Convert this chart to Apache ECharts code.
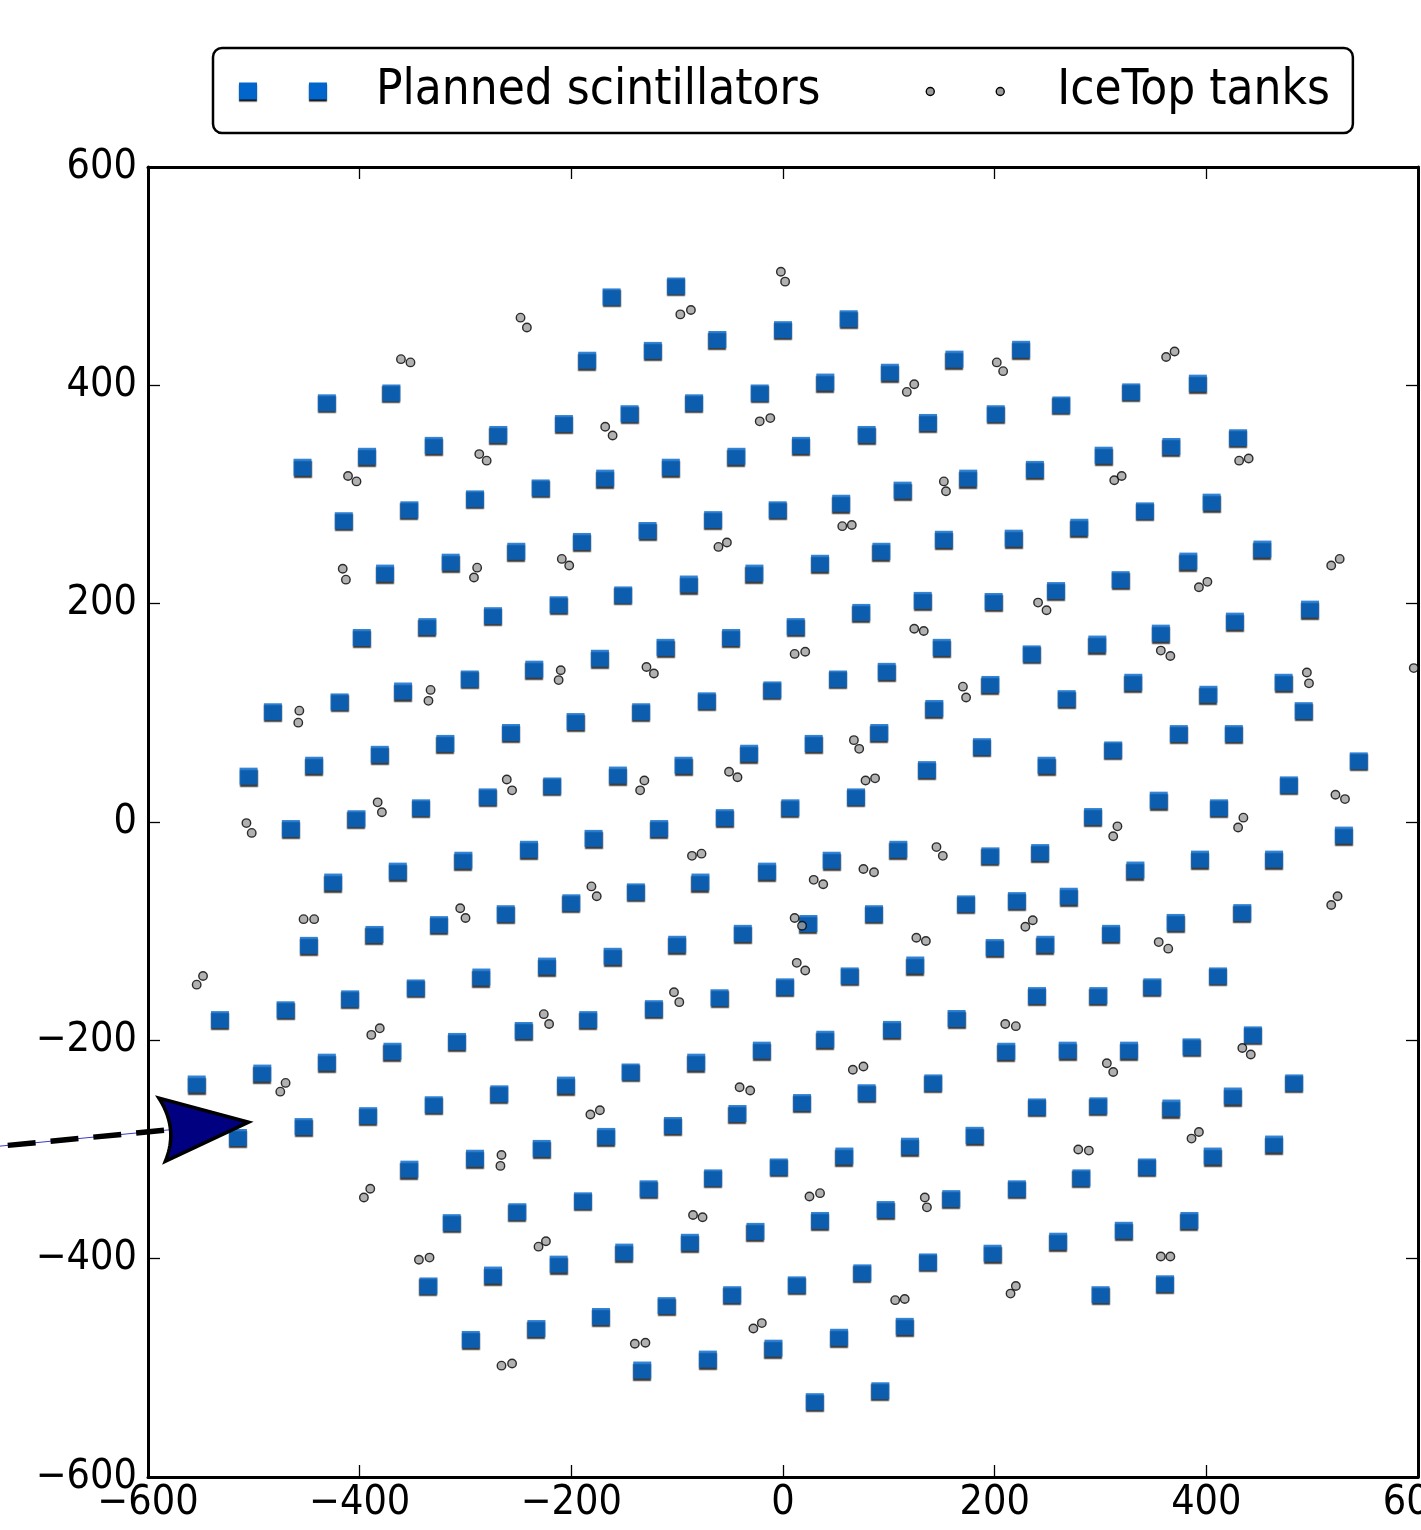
<!DOCTYPE html>
<html>
<head>
<meta charset="utf-8">
<script src="https://cdn.jsdelivr.net/npm/echarts@6/dist/echarts.min.js"></script>
<style>
html,body{margin:0;padding:0;background:#fff;}
#chart{width:1421px;height:1530px;}
</style>
</head>
<body>
<div id="chart"></div>
<script>
// ---------- data ----------
const xTicks = [-600, -400, -200, 0, 200, 400, 600];
const yTicks = [-600, -400, -200, 0, 200, 400, 600];

const scintillatorX = [
-431,-370,-207,-454,-393,-330,-269,-229,-291,-415,-353,-252,-314,-376,-212,-274,-336,-398,-235,-296,
-162,-101,62,0,-62,-123,-185,162,101,40,-22,-84,-145,137,79,17,-44,-106,-168,175,113,55,-5,-66,-128,-190,152,93,35,-27,-89,-151,132,74,12,-49,-111,-173,150,98,52,196,
225,201,263,329,392,430,367,303,238,405,342,280,218,453,383,319,258,199,498,427,357,297,235,331,473,
-482,-419,-359,-257,-196,-319,-381,-443,-505,-218,-279,-342,-403,-465,-240,-302,-364,-425,-200,-262,-325,-386,-448,-223,-285,-347,-409,-470,-532,-245,-308,-369,-431,-492,-554,-268,-205,
-134,-72,-10,143,91,29,-32,-94,-156,188,136,69,7,-55,-117,-179,109,46,-15,-78,-139,196,173,86,24,-38,-100,-161,200,125,63,2,-60,-122,-184,164,103,40,-20,-82,-144,142,79,
268,402,492,374,426,312,249,544,478,355,412,293,530,243,333,394,464,221,270,310,371,434,248,240,298,349,411,211,269,327,386,444,483,
-515,-453,-392,-330,-353,-291,-228,-251,-313,-212,-274,-335,-233,-295,
18,-43,-104,-167,181,120,58,-4,-66,-127,-189,159,97,35,-26,-88,-150,198,137,75,13,-48,-110,-172,115,53,-9,-71,-133,92,30,
425,240,298,367,464,406,344,282,221,260,322,384,361,300
];
const scintillatorY = [
384,393,365,325,335,345,355,306,296,276,286,248,238,228,199,189,179,169,140,131,
481,491,461,451,442,432,423,424,412,403,393,384,374,366,355,345,335,325,315,315,304,292,286,277,267,257,259,248,237,228,218,208,203,192,179,169,160,150,160,138,131,126,
433,374,382,394,402,352,344,336,323,293,285,270,260,250,239,222,212,202,195,184,173,163,154,128,128,
101,110,120,82,92,72,62,52,42,33,23,13,3,-6,-25,-35,-45,-55,-74,-84,-94,-103,-113,-132,-142,-152,-162,-172,-181,-191,-201,-210,-220,-230,-240,-249,-241,
101,111,121,104,82,72,63,52,43,69,48,23,13,4,-6,-15,-25,-35,-45,-55,-64,-31,-75,-84,-93,-102,-112,-123,-115,-131,-141,-151,-161,-171,-181,-180,-190,-199,-209,-220,-229,-239,-248,
113,117,102,81,81,66,52,56,34,20,13,5,-12,-28,-44,-34,-34,-72,-68,-102,-92,-83,-112,-159,-159,-151,-141,-210,-209,-209,-206,-195,-239,
-289,-279,-269,-259,-318,-308,-299,-357,-367,-405,-415,-425,-464,-474,
-257,-267,-278,-288,-287,-297,-306,-316,-326,-336,-347,-345,-355,-365,-375,-385,-394,-395,-403,-413,-424,-433,-443,-453,-462,-472,-482,-492,-502,-521,-531,
-251,-261,-260,-262,-295,-306,-316,-326,-336,-384,-374,-365,-423,-433
];

const tankX = [
-248,-242,-361,-352,-287,-280,-411,-403,-416,-413,-289,-292,-209,-202,-210,-212,
-2,2,-97,-87,117,124,-168,-161,-22,-12,152,154,56,65,-61,-53,124,133,11,21,-129,-122,
202,208,362,370,431,440,313,320,518,526,393,401,241,249,357,366,495,497,596,
-457,-458,-333,-335,-261,-256,-383,-379,-507,-502,-453,-443,-305,-300,-554,-548,-226,-221,-389,-381,-475,-470,
170,173,67,72,78,87,-51,-43,-131,-135,-86,-77,-181,-176,145,151,76,86,29,38,11,18,126,135,13,21,-103,-98,66,76,-41,-31,
522,531,316,312,435,430,524,518,236,229,355,364,210,220,306,312,434,442,
-396,-390,-266,-267,-344,-334,-231,-224,-266,-256,
-182,-173,25,35,134,136,-85,-76,106,115,-28,-20,-140,-130,
386,393,279,289,357,366,215,220
];
const tankY = [
462,453,424,421,337,331,317,312,232,222,233,224,241,235,139,130,
504,495,465,469,394,401,362,354,367,370,312,303,271,272,252,256,177,175,154,156,142,136,
421,413,426,431,331,333,313,317,235,241,215,220,201,194,157,152,137,127,141,
102,91,121,111,39,29,18,9,-1,-10,-89,-89,-79,-88,-149,-141,-176,-185,-195,-189,-247,-239,
124,114,75,67,38,40,46,41,38,29,-31,-29,-59,-68,-23,-31,-43,-46,-53,-57,-88,-95,-106,-109,-129,-136,-156,-165,-227,-224,-243,-246,
25,21,-4,-13,4,-5,-68,-76,-90,-96,-110,-116,-185,-187,-221,-229,-207,-213,
-344,-336,-305,-315,-401,-399,-389,-384,-498,-496,
-268,-264,-343,-340,-344,-353,-360,-362,-438,-437,-464,-459,-478,-477,
-290,-284,-300,-301,-398,-398,-432,-425
];

const arrowStart = [-741, -297];
const arrowEnd = [-505, -275];

const seriesNames = ['Planned scintillators', 'IceTop tanks'];

// ---------- build ----------
const FONT = "'DejaVu Sans Condensed', 'DejaVu Sans', sans-serif";
const SQ_COLOR = '#0165cc';
const TANK_COLOR = '#9d9d9d';
const scintData = scintillatorX.map((x, i) => [x, scintillatorY[i]]);
const tankData = tankX.map((x, i) => [x, tankY[i]]);
const fmt = v => (v < 0 ? '\u2212' + Math.abs(v) : String(v));

function axisCommon(showLabel, pos, ticks) {
  return {
    type: 'value',
    position: pos,
    min: ticks[0], max: ticks[ticks.length - 1], interval: ticks[1] - ticks[0],
    axisLine: { show: true, onZero: false, lineStyle: { color: '#000', width: 3 } },
    axisTick: { show: true, inside: true, length: 12, lineStyle: { color: '#000', width: 1.3 } },
    splitLine: { show: false },
    axisLabel: {
      show: showLabel, color: '#000', fontSize: 41, fontFamily: FONT,
      margin: (pos === 'left' ? 11 : 6), formatter: fmt,
      showMinLabel: true, showMaxLabel: true, hideOverlap: false
    }
  };
}

const squareStyle = { color: SQ_COLOR, shadowColor: 'rgba(0,0,0,0.95)', shadowOffsetX: 0, shadowOffsetY: 2, shadowBlur: 1.2 };

const chart = echarts.init(document.getElementById('chart'), null, { renderer: 'canvas' });
chart.setOption({
  backgroundColor: '#fff',
  animation: false,
  grid: { left: 148, top: 167, width: 1270, height: 1310, containLabel: false, outerBoundsMode: 'none' },
  xAxis: [axisCommon(true, 'bottom', xTicks), axisCommon(false, 'top', xTicks)],
  yAxis: [axisCommon(true, 'left', yTicks), axisCommon(false, 'right', yTicks)],
  legend: {
    left: 213, top: 48,
    orient: 'horizontal',
    padding: [19, 23, 17, 26],
    itemGap: 99,
    itemWidth: 132, itemHeight: 18,
    borderColor: '#000', borderWidth: 2.5, borderRadius: 9,
    backgroundColor: '#fff',
    selectedMode: false,
    textStyle: { fontSize: 49, fontFamily: FONT, color: '#000' },
    data: [
      { name: seriesNames[0], icon: 'path://M0,0H18V17H0Z M70,0H88V17H70Z M132,9L132,9.01 M0,18L0,18.01',
        itemStyle: { color: SQ_COLOR, opacity: 1, borderWidth: 0, shadowColor: 'rgba(0,0,0,0.95)', shadowOffsetY: 2, shadowBlur: 1.2 } },
      { name: seriesNames[1], icon: 'path://M0,0L0,0.01 M0,18L0,18.01 M132,9L132,9.01 M14,9A4,4 0 1,1 6,9A4,4 0 1,1 14,9Z M84,9A4,4 0 1,1 76,9A4,4 0 1,1 84,9Z',
        itemStyle: { color: TANK_COLOR, opacity: 1, borderColor: '#000', borderWidth: 1.4 } }
    ]
  },
  series: [
    {
      name: seriesNames[0], type: 'scatter', data: scintData,
      symbol: 'rect', symbolSize: [18, 17], z: 3,
      itemStyle: squareStyle,
      emphasis: { disabled: true }
    },
    {
      name: seriesNames[1], type: 'scatter', data: tankData,
      symbol: 'circle', symbolSize: 8.5, z: 4,
      itemStyle: { color: TANK_COLOR, borderColor: '#000', borderWidth: 1.4 },
      emphasis: { disabled: true }
    },
    {
      type: 'custom', z: 10, silent: true, clip: false,
      data: [[arrowStart[0], arrowStart[1], arrowEnd[0], arrowEnd[1]]],
      encode: { x: [0, 2], y: [1, 3] },
      renderItem: function (params, api) {
        const p0 = api.coord([api.value(0), api.value(1)]);
        const p1 = api.coord([api.value(2), api.value(3)]);
        const dx = p1[0] - p0[0], dy = p1[1] - p0[1];
        const L = Math.hypot(dx, dy);
        const d = [dx / L, dy / L], n = [-d[1], d[0]];
        const P = (u, v) => [p1[0] + u * d[0] + v * n[0], p1[1] + u * d[1] + v * n[1]];
        const A = [-87, -32.7], B = [-86.6, 31], C = [-70, 0];
        const pts = [P(0, 0), P(A[0], A[1])];
        for (let k = 1; k < 20; k++) {
          const t = k / 20, a = (1 - t) * (1 - t), b = 2 * t * (1 - t), c = t * t;
          pts.push(P(a * A[0] + b * C[0] + c * B[0], a * A[1] + b * C[1] + c * B[1]));
        }
        pts.push(P(B[0], B[1]));
        const notch = P(-78, 0);
        return {
          type: 'group',
          children: [
            { type: 'line', shape: { x1: p0[0], y1: p0[1], x2: notch[0], y2: notch[1] },
              style: { stroke: '#3b3bd0', lineWidth: 1 } },
            { type: 'line', shape: { x1: p0[0], y1: p0[1], x2: notch[0], y2: notch[1] },
              style: { stroke: '#000', lineWidth: 5.5, lineDash: [28, 15], lineDashOffset: 34 } },
            { type: 'polygon', shape: { points: pts },
              style: { fill: '#000080', stroke: '#000', lineWidth: 3.5, lineJoin: 'miter', miterLimit: 10 } }
          ]
        };
      }
    }
  ]
});
</script>
</body>
</html>
